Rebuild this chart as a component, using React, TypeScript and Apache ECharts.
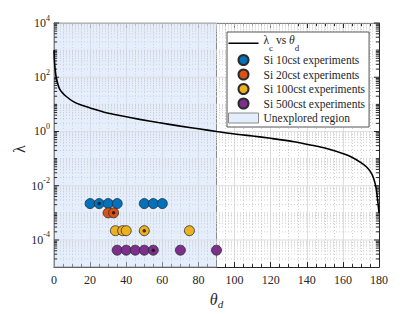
import React, { useEffect, useRef } from "react";
import * as echarts from "echarts";

// ---- Data ----
const thetaCurve = [0, 0.3, 0.7, 1.2, 2, 3, 4.5, 6.8, 10.5, 15, 20, 29, 38, 47.5, 57.7, 70, 80, 90, 100, 110, 120, 133, 142, 151.5, 160.7, 165, 170, 173, 175.5, 177, 178.3, 179.3, 179.7, 180];
const lambdaCurve = [1000, 355, 178, 100, 60, 38, 27.5, 19.5, 12.9, 9.5, 7.4, 4.9, 3.7, 2.8, 2.14, 1.58, 1.26, 1.0, 0.81, 0.68, 0.56, 0.42, 0.32, 0.23, 0.148, 0.112, 0.071, 0.05, 0.031, 0.019, 0.0089, 0.0028, 0.0016, 0.001];

const si10Theta = [20, 25, 30, 35, 50, 55, 60];
const si10Lambda = [2.2e-3, 2.2e-3, 2.2e-3, 2.2e-3, 2.2e-3, 2.2e-3, 2.2e-3];
const si20Theta = [30, 33];
const si20Lambda = [1.0e-3, 1.0e-3];
const si100Theta = [34, 38, 40, 50, 75];
const si100Lambda = [2.2e-4, 2.2e-4, 2.2e-4, 2.2e-4, 2.2e-4];
const si500Theta = [35, 40, 45, 50, 55, 70, 90];
const si500Lambda = [4.2e-5, 4.2e-5, 4.2e-5, 4.2e-5, 4.2e-5, 4.2e-5, 4.2e-5];

const markedTheta = [25, 33, 50, 55];
const markedLambda = [2.2e-3, 1.0e-3, 2.2e-4, 4.2e-5];

const unexploredRange = [0, 90];

// axis ticks
const xMin = 0, xMax = 180, xStep = 20;
const yMin = 1e-5, yMax = 1e4;
const yMajorTicks = [1e-4, 1e-2, 1, 1e2, 1e4];
const yDecades = [-5, -4, -3, -2, -1, 0, 1, 2, 3];
const yMinorMultipliers = [2, 3, 4, 5, 6, 7, 8, 9];
const yOddDecadeTicks = [1e-3, 1e-1, 1e1, 1e3];

const LINE_NAME = "λc vs θd";
const N10 = "Si 10cst experiments";
const N20 = "Si 20cst experiments";
const N100 = "Si 100cst experiments";
const N500 = "Si 500cst experiments";
const NUNEX = "Unexplored region";
const Y_NAME = "λ";

const FONT = "'Liberation Serif', 'DejaVu Serif', 'Times New Roman', serif";
const AX = "#262626";

const zip = (a: number[], b: number[]) => a.map((v, i) => [v, b[i]]);

export default function App() {
  const ref = useRef<HTMLDivElement>(null);
  useEffect(() => {
    if (!ref.current) return;
    const chart = echarts.init(ref.current, undefined, { renderer: "svg" });

    const gridData: number[][] = [];
    yMajorTicks.forEach((v) => gridData.push([0, v, 1]));
    yOddDecadeTicks.forEach((v) => gridData.push([0, v, 0]));
    yDecades.forEach((d) =>
      yMinorMultipliers.forEach((m) => gridData.push([0, m * Math.pow(10, d), 0]))
    );

    const scatterBase = (name: string, color: string, data: number[][]) => ({
      name,
      type: "scatter",
      data,
      symbol: "circle",
      symbolSize: 10,
      z: 5,
      itemStyle: { color, borderColor: "#2b2b2b", borderWidth: 0.8, opacity: 1 },
    });

    const option: any = {
      animation: false,
      backgroundColor: "#fff",
      grid: { left: 54, right: 40, top: 23, bottom: 40, containLabel: false },
      textStyle: { fontFamily: FONT },
      graphic: [
        {
          type: "text",
          x: 19,
          y: 149,
          rotation: Math.PI / 2,
          style: { text: Y_NAME, font: "16px " + FONT, fill: AX, align: "center", verticalAlign: "middle" },
        },
      ],
      xAxis: [
        {
          type: "value",
          min: xMin,
          max: xMax,
          interval: xStep,
          position: "bottom",
          axisLine: { show: true, onZero: false, lineStyle: { color: AX, width: 1 } },
          axisTick: { show: true, inside: true, length: 5, lineStyle: { color: AX } },
          minorTick: { show: true, splitNumber: 4, length: 3, lineStyle: { color: AX } },
          axisLabel: { color: AX, fontFamily: FONT, fontSize: 12, margin: 7 },
          splitLine: { show: true, lineStyle: { color: "#dedede", width: 1 } },
          minorSplitLine: { show: true, lineStyle: { color: "#cfcfcf", width: 1, type: [1, 2] } },
          name: "{t|θ}{s|d}",
          nameLocation: "middle",
          nameGap: 17,
          nameTextStyle: {
            rich: {
              t: { fontFamily: FONT, fontSize: 16, fontStyle: "italic", color: AX, lineHeight: 20 },
              s: { fontFamily: FONT, fontSize: 11, fontStyle: "italic", color: AX, verticalAlign: "bottom" },
            },
          },
        },
        {
          type: "value",
          min: xMin,
          max: xMax,
          interval: xStep,
          position: "top",
          axisLine: { show: true, onZero: false, lineStyle: { color: AX, width: 1 } },
          axisTick: { show: true, inside: true, length: 5, lineStyle: { color: AX } },
          minorTick: { show: true, splitNumber: 4, length: 3, lineStyle: { color: AX } },
          axisLabel: { show: false },
          splitLine: { show: false },
        },
      ],
      yAxis: [
        {
          type: "log",
          logBase: 10,
          min: yMin,
          max: yMax,
          position: "left",
          axisLine: { show: true, onZero: false, lineStyle: { color: AX, width: 1 } },
          axisTick: { show: false },
          splitLine: { show: false },
          axisLabel: {
            color: AX,
            margin: 4,
            formatter: (v: number) => {
              const e = Math.round(Math.log10(v));
              if (e % 2 !== 0) return "";
              return "{b|10}{e|" + e + "}";
            },
            rich: {
              b: { fontFamily: FONT, fontSize: 12, color: AX, lineHeight: 18 },
              e: { fontFamily: FONT, fontSize: 8, color: AX, verticalAlign: "top" },
            },
          },
        },
        {
          type: "log",
          logBase: 10,
          min: yMin,
          max: yMax,
          position: "right",
          axisLine: { show: true, onZero: false, lineStyle: { color: AX, width: 1 } },
          axisTick: { show: false },
          axisLabel: { show: false },
          splitLine: { show: false },
        },
      ],
      legend: {
        orient: "vertical",
        left: 227,
        top: 32,
        itemWidth: 30,
        itemHeight: 10,
        itemGap: 0.5,
        padding: [2, 4, 2, 1],
        backgroundColor: "#fff",
        borderColor: "#555",
        borderWidth: 1,
        borderRadius: 0,
        textStyle: {
          fontFamily: FONT,
          fontSize: 11.5,
          color: AX,
          lineHeight: 14,
          rich: {
            t: { fontFamily: FONT, fontSize: 11.5, color: AX, lineHeight: 14, verticalAlign: "top" },
            ti: { fontFamily: FONT, fontSize: 11.5, fontStyle: "italic", color: AX, lineHeight: 14, verticalAlign: "top" },
            sub: { fontFamily: FONT, fontSize: 9, color: AX, lineHeight: 18.5, verticalAlign: "bottom" },
          },
        },
        formatter: (name: string) =>
          name === LINE_NAME ? "{t|λ}{sub|c}{t| vs }{ti|θ}{sub|d}" : name,
        data: [
          {
            name: LINE_NAME,
            icon: "path://M0,4.2H30V5.8H0Z M0,0H0.01V0.01H0Z M29.99,9.99H30V10H29.99Z",
            itemStyle: { color: "#000", borderWidth: 0 },
          },
          { name: N10 },
          { name: N20 },
          { name: N100 },
          { name: N500 },
          { name: NUNEX, icon: "rect", itemStyle: { color: "#e4edfc", borderColor: "#8a8a8a", borderWidth: 1 } },
        ],
      },
      series: [
        {
          name: "grid",
          type: "custom",
          xAxisIndex: 0,
          yAxisIndex: 0,
          silent: true,
          clip: false,
          z: 1,
          data: gridData,
          renderItem: (params: any, api: any) => {
            const v = api.value(1);
            const major = api.value(2) === 1;
            const p0 = api.coord([xMin, v]);
            const p1 = api.coord([xMax, v]);
            const tl = major ? 5 : 3;
            return {
              type: "group",
              children: [
                {
                  type: "line",
                  shape: { x1: p0[0], y1: p0[1], x2: p1[0], y2: p1[1] },
                  style: major
                    ? { stroke: "#dedede", lineWidth: 1 }
                    : { stroke: "#cfcfcf", lineWidth: 1, lineDash: [1, 2] },
                },
                {
                  type: "line",
                  shape: { x1: p0[0], y1: p0[1], x2: p0[0] + tl, y2: p0[1] },
                  style: { stroke: AX, lineWidth: 1 },
                  z2: 10,
                },
                {
                  type: "line",
                  shape: { x1: p1[0] - tl, y1: p1[1], x2: p1[0], y2: p1[1] },
                  style: { stroke: AX, lineWidth: 1 },
                  z2: 10,
                },
              ],
            };
          },
        },
        {
          name: NUNEX,
          type: "line",
          data: [],
          symbol: "none",
          z: 2,
          itemStyle: { color: "#e4edfc" },
          markArea: {
            silent: true,
            itemStyle: { color: "rgba(204, 222, 250, 0.5)", borderColor: "#8a8a8a", borderWidth: 1 },
            data: [[{ xAxis: unexploredRange[0] }, { xAxis: unexploredRange[1] }]],
          },
        },
        {
          name: LINE_NAME,
          type: "line",
          data: zip(thetaCurve, lambdaCurve),
          symbol: "none",
          smooth: 0.3,
          z: 4,
          lineStyle: { color: "#000", width: 1.6 },
          itemStyle: { color: "#000" },
        },
        scatterBase(N10, "#0072BD", zip(si10Theta, si10Lambda)),
        scatterBase(N20, "#D95319", zip(si20Theta, si20Lambda)),
        scatterBase(N100, "#EDB120", zip(si100Theta, si100Lambda)),
        scatterBase(N500, "#7E2F8E", zip(si500Theta, si500Lambda)),
        {
          name: "marked",
          type: "scatter",
          data: zip(markedTheta, markedLambda),
          symbol: "circle",
          symbolSize: 3.5,
          z: 6,
          itemStyle: { color: "#111" },
        },
      ],
    };
    chart.setOption(option);
    return () => chart.dispose();
  }, []);
  return <div ref={ref} style={{ width: 419, height: 314, position: "absolute", left: 0, top: 0 }} />;
}
